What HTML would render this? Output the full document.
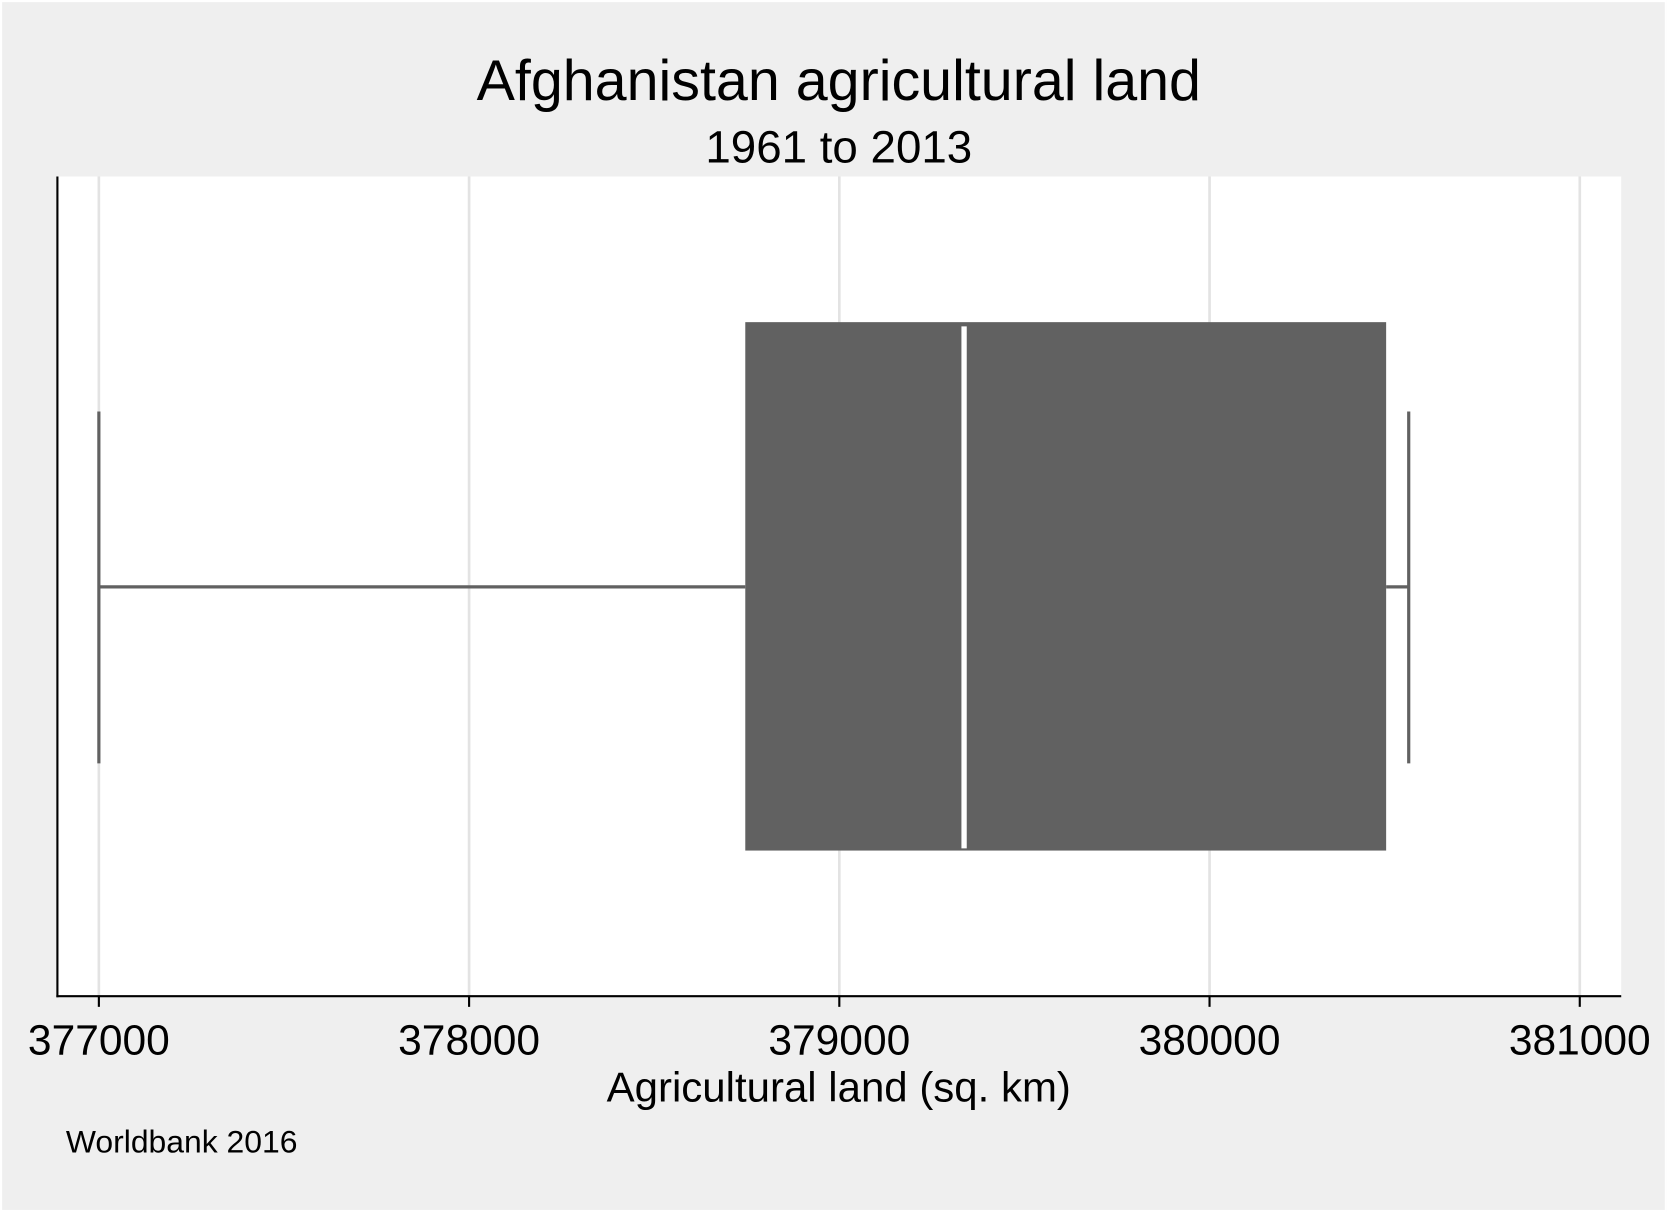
<!DOCTYPE html>
<html><head><meta charset="utf-8"><style>
html,body{margin:0;padding:0;background:#efefef;overflow:hidden}
#wrap{width:1568px;height:1140px;transform:scale(1.0631,1.0632);transform-origin:0 0}
text{font-family:"Liberation Sans",sans-serif;fill:#000}
</style></head><body>
<div id="wrap">
<svg id="chart" width="1568" height="1140">
<rect x="1" y="1" width="1566" height="1138" fill="#efefef" stroke="#fff" stroke-width="2"/>
<text x="789" y="94" font-size="54" text-anchor="middle">Afghanistan agricultural land</text>
<text x="789" y="153" font-size="43" text-anchor="middle">1961 to 2013</text>
<rect x="54" y="166" width="1471" height="771" fill="#fff"/>
<g id="grid"></g>
<g id="marks"></g>
<line x1="54" y1="166" x2="54" y2="938" stroke="#000" stroke-width="2"/>
<line x1="53" y1="937" x2="1525" y2="937" stroke="#000" stroke-width="2"/>
<g id="ticks"></g>
<text x="789" y="1036" font-size="39.5" text-anchor="middle">Agricultural land (sq. km)</text>
<text x="62" y="1084" font-size="30">Worldbank 2016</text>
</svg></div>
<script>
const tickValues=[377000,378000,379000,380000,381000];
const tickLabels=["377000","378000","379000","380000","381000"];
const boxStats=[377000,378746,379337,380477,380538]; // min,q1,median,q3,max
const NS="http://www.w3.org/2000/svg";
function xs(v){return 93+(v-377000)*(1486-93)/4000;}
function mk(tag,attrs,parent){const e=document.createElementNS(NS,tag);for(const k in attrs)e.setAttribute(k,attrs[k]);document.getElementById(parent).appendChild(e);return e;}
tickValues.forEach((v,i)=>{
 const g=mk('line',{x1:xs(v),x2:xs(v),y1:166,y2:937,stroke:'#e3e3e3','stroke-width':2.5},'grid');
 
 
 const t=mk('line',{x1:xs(v),x2:xs(v),y1:937,y2:947,stroke:'#000','stroke-width':2},'ticks');
 
 
 const l=mk('text',{x:xs(v),y:992,'font-size':40,'text-anchor':'middle'},'ticks');
 l.textContent=tickLabels[i];
 
 
});
const [mn,q1,md,q3,mx]=boxStats;
const c='#616161';
let e;
e=mk('line',{x1:xs(mn),x2:xs(q1),y1:552,y2:552,stroke:c,'stroke-width':3},'marks');


e=mk('line',{x1:xs(q3),x2:xs(mx),y1:552,y2:552,stroke:c,'stroke-width':3},'marks');


e=mk('line',{x1:xs(mn),x2:xs(mn),y1:387,y2:718,stroke:c,'stroke-width':3},'marks');


e=mk('line',{x1:xs(mx),x2:xs(mx),y1:387,y2:718,stroke:c,'stroke-width':3},'marks');


e=mk('rect',{x:xs(q1),y:303,width:xs(q3)-xs(q1),height:497,fill:c},'marks');


e=mk('line',{x1:xs(md),x2:xs(md),y1:307,y2:798,stroke:'#fff','stroke-width':5},'marks');


</script>
</body></html>
